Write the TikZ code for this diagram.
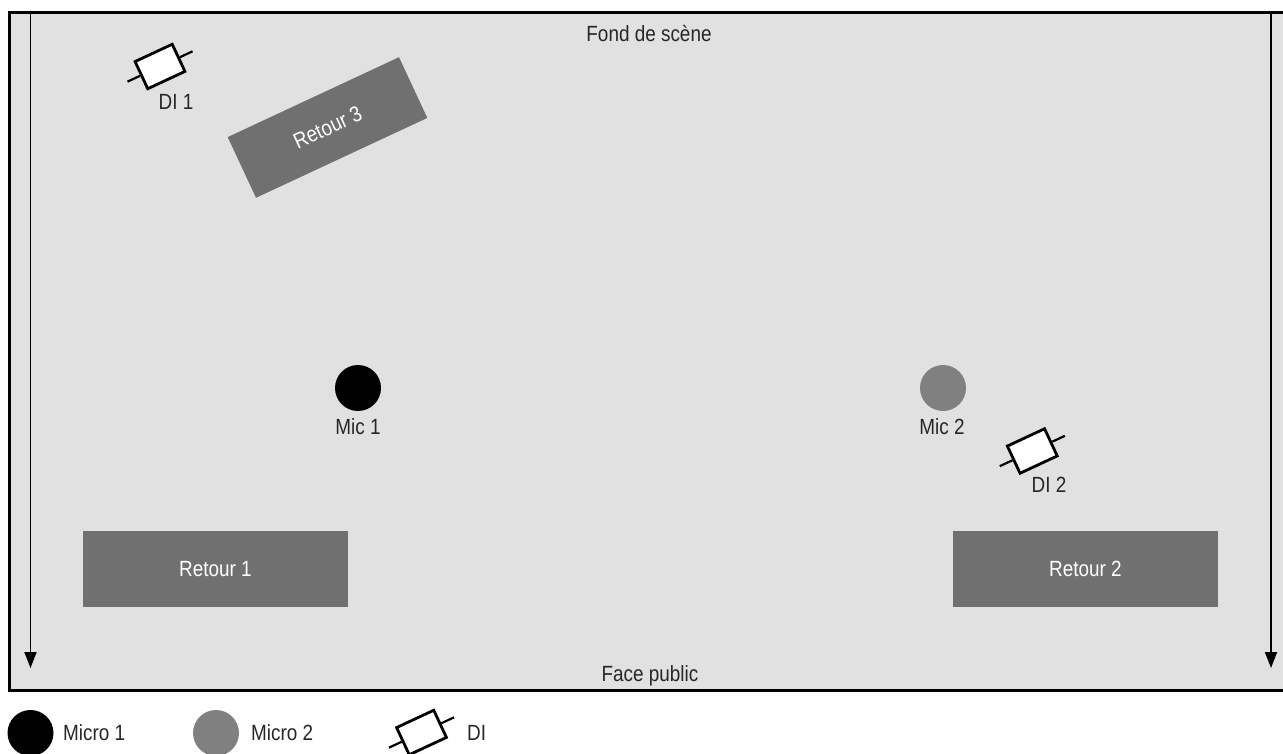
\documentclass[tikz,border=0pt]{standalone}
\usepackage{fontspec}
\setmainfont[FakeStretch=0.86]{Liberation Sans}
\usepackage{xcolor}
\usetikzlibrary{arrows.meta,positioning}
\definecolor{stagegray}{HTML}{E1E1E1}
\definecolor{retourgray}{HTML}{707070}
\definecolor{micgray}{HTML}{808080}

\begin{document}
\begin{tikzpicture}[
    x=1pt, y=-1pt,
    >={Triangle[length=16pt,width=12pt]},
    every node/.style={font=\fontsize{22}{26}\selectfont, text=black!85},
    retour/.style={fill=retourgray, minimum width=265pt, minimum height=76pt, text=white, inner sep=0pt},
    micro/.style={circle, minimum size=46pt, inner sep=0pt},
    dibox/.style={draw=black, fill=white, line width=2.8pt, minimum width=41pt, minimum height=30pt, inner sep=0pt, rotate=25},
    wing/.style={draw=black, line width=2.2pt},
    frameline/.style={draw=black, line width=3pt},
    guide/.style={->, draw=black, line width=1.8pt}
]

\useasboundingbox (0,0) rectangle (1283,754);

\fill[stagegray] (9,13) rectangle (1283,690);
\draw[frameline] (1283,13) -- (9,13) -- (9,690) -- (1283,690);

\coordinate (LT) at (30.5,13);
\coordinate (LB) at (30.5,668);
\coordinate (RT) at (1271,13);
\coordinate (RB) at (1271,668);
\draw[guide] (LT) -- (LB);
\draw[guide] (RT) -- (RB);

\node (FS) at (649,34) {Fond de scène};
\node (FP) at (650,676) {Face public};

\node[retour] (R1) at (215.5,569) {Retour 1};
\node[retour] (R2) at (1085.5,569) {Retour 2};
\node[retour, minimum width=189pt, minimum height=67pt, rotate=25] (R3) at (327.5,127.5) {Retour 3};

\node[micro, fill=black] (M1) at (358,388) {};
\node[micro, fill=micgray] (M2) at (943,388) {};
\node (LM1) at (358,427) {Mic 1};
\node (LM2) at (942,427) {Mic 2};

\foreach \dname/\dx/\dy in {DA/160/66.5, DB/1032.3/451, DL/421.5/732.5} {
    \node[dibox] (\dname) at (\dx,\dy) {};
    \draw[wing] (\dname.west) -- ++(205:14pt);
    \draw[wing] (\dname.east) -- ++(25:14pt);
}
\node (LDA) at (176,102) {DI 1};
\node (LDB) at (1049,485) {DI 2};

% legend
\node[micro, fill=black] (K1) at (30.5,733) {};
\node[micro, fill=micgray] (K2) at (216,733) {};
\node[anchor=west, inner sep=0pt] (TK1) at (63,733) {Micro 1};
\node[anchor=west, inner sep=0pt] (TK2) at (251,733) {Micro 2};
\node[anchor=west, inner sep=0pt] (TK3) at (467,733) {DI};

\end{tikzpicture}
\end{document}
